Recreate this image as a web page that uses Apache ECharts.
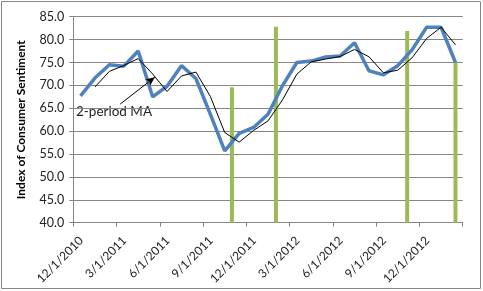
<!DOCTYPE html>
<html>
<head>
<meta charset="utf-8">
<script src="https://cdn.jsdelivr.net/npm/echarts@6/dist/echarts.min.js"></script>
<style>
html,body{margin:0;padding:0;background:#fff;}
#chart{width:483px;height:291px;}
</style>
</head>
<body>
<div id="chart"></div>
<script>
// Month slots (x positions are slot index + 0.5 on a 27-month axis)
const months = ['Oct-10','Nov-10','Dec-10','Jan-11','Feb-11','Mar-11','Apr-11','May-11','Jun-11','Jul-11','Aug-11','Sep-11','Oct-11','Nov-11','Dec-11','Jan-12','Feb-12','Mar-12','Apr-12','May-12','Jun-12','Jul-12','Aug-12','Sep-12','Oct-12','Nov-12','Dec-12'];
const sentiment = [67.7,71.6,74.5,74.2,77.5,67.5,69.8,74.3,71.5,63.7,55.7,59.5,60.8,63.7,69.9,75.0,75.3,76.2,76.4,79.3,73.2,72.3,74.3,77.8,82.7,82.7,75.0];
const movingAvg = [null,69.65,73.05,74.35,75.85,72.5,68.65,72.05,72.9,67.6,59.7,57.6,60.15,62.25,66.8,72.45,75.15,75.75,76.3,77.85,76.25,72.75,73.3,76.05,80.25,82.7,78.85];
const tickLabels = ['12/1/2010','3/1/2011','6/1/2011','9/1/2011','12/1/2011','3/1/2012','6/1/2012','9/1/2012','12/1/2012'];
const tickValues = [0,3,6,9,12,15,18,21,24];
const markerX = [11.0,14.05,23.15,26.5];
const markerTop = [69.6,82.8,81.9,75.0];
const arrowFrom = [3.25,65.9];
const arrowTo = [5.65,71.8];

const chart = echarts.init(document.getElementById('chart'));
const FONT = 'Lato, "Liberation Sans", sans-serif';
const LABEL_SHIFT = 0.55; // labels sit a little right of their tick, as in the reference
chart.setOption({
  animation:false,
  backgroundColor:'#fff',
  grid:{left:73.3,right:20.3,top:16.7,bottom:68.3,containLabel:false},
  xAxis:[{
    type:'value',min:0,max:27,interval:3,
    axisLine:{show:true,lineStyle:{color:'#868686',width:1}},
    axisTick:{show:true,length:4,inside:false,lineStyle:{color:'#868686'}},
    splitLine:{show:false},
    axisLabel:{show:false}
  },{
    type:'value',position:'bottom',min:-LABEL_SHIFT,max:27-LABEL_SHIFT,
    axisLine:{show:false},axisTick:{show:false},splitLine:{show:false},
    axisLabel:{rotate:45,fontSize:12,fontFamily:FONT,color:'#222',margin:16,
      customValues:tickValues,
      formatter:v=>{const k=tickValues.indexOf(Math.round(v));return k>=0?tickLabels[k]:'';}}
  }],
  yAxis:{
    type:'value',min:40,max:85,interval:5,
    name:'Index of Consumer Sentiment',nameLocation:'middle',nameGap:46,
    nameTextStyle:{fontSize:12,fontWeight:'bold',fontFamily:FONT,color:'#000'},
    axisLine:{show:true,lineStyle:{color:'#868686',width:1}},
    axisTick:{show:true,length:4,lineStyle:{color:'#868686'}},
    splitLine:{show:true,lineStyle:{color:'#868686',width:1}},
    axisLabel:{fontSize:12.5,fontFamily:FONT,color:'#222',margin:9,formatter:v=>v.toFixed(1)}
  },
  graphic:[
    {type:'rect',shape:{x:1.5,y:1.5,width:479,height:287},style:{fill:null,stroke:'#868686',lineWidth:1},z:-1},
    {type:'text',left:76,top:105,style:{text:'2-period MA',font:'13.5px '+FONT,fill:'#222'}}
  ],
  series:[
    {type:'bar',barWidth:4,z:1,itemStyle:{color:'#9BBB59'},
      data:markerX.map((x,i)=>[x,markerTop[i]])},
    {type:'line',z:3,symbol:'none',smooth:false,lineStyle:{color:'#4F81BD',width:3.5},
      data:sentiment.map((v,i)=>[i+0.5,v])},
    {type:'line',z:4,symbol:'none',smooth:false,lineStyle:{color:'#000',width:1},
      data:movingAvg.map((v,i)=>[i+0.5,v]),
      markLine:{silent:true,symbol:['none','arrow'],symbolSize:[6,9],
        lineStyle:{color:'#000',width:1,type:'solid'},label:{show:false},
        data:[[{coord:arrowFrom},{coord:arrowTo}]]}}
  ]
});
</script>
</body>
</html>
